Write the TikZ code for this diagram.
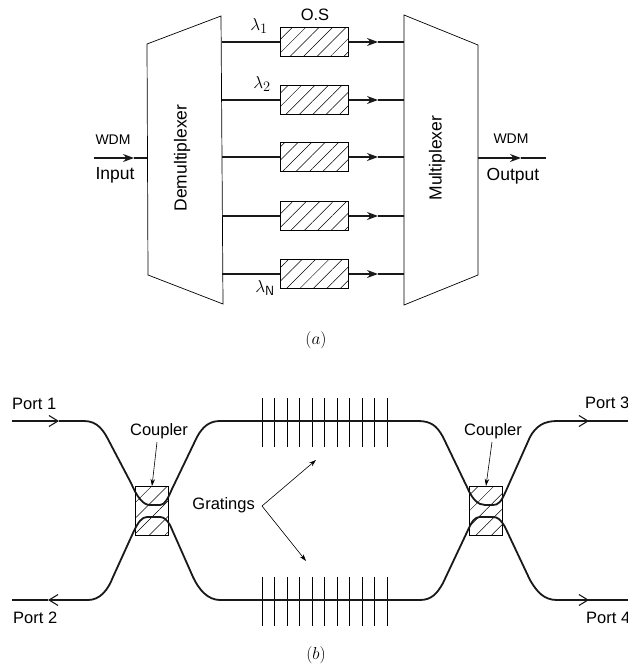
\documentclass[tikz,border=0pt]{standalone}
\usepackage{fontspec}
\setmainfont{Liberation Sans}
\usepackage{amsmath}
\usetikzlibrary{arrows.meta,patterns.meta}

\tikzset{
  wire/.style={line width=1.1pt,black!90},
  fiber/.style={line width=1.8pt,black!90},
  tipa/.style={-{Stealth[length=11pt,width=8pt]}},
  tipb/.style={-{Straight Barb[length=9pt,width=11pt,line width=1.1pt]}},
  leader/.style={line width=0.6pt,-{Stealth[length=7pt,width=4.5pt]}},
  label/.style={font=\fontsize{16.5}{18}\selectfont,inner sep=0pt},
  biglabel/.style={font=\fontsize{17.5}{19}\selectfont,inner sep=0pt},
  smalllabel/.style={font=\fontsize{14}{16}\selectfont,inner sep=0pt},
  lamlabel/.style={font=\fontsize{19}{21}\selectfont,inner sep=0pt},
  caption/.style={font=\fontsize{16}{18}\selectfont,inner sep=0pt},
  osbox/.style={draw,line width=0.8pt,minimum width=68pt,minimum height=29pt,inner sep=0pt,
    pattern={Lines[angle=45,distance=9.5pt,line width=0.5pt]}},
  couplerbox/.style={draw,line width=0.9pt,minimum width=33pt,minimum height=49.5pt,inner sep=0pt,
    pattern={Lines[angle=45,distance=11pt,line width=0.5pt]}}
}

\begin{document}
\begin{tikzpicture}[x=1pt,y=-1pt]
  \path[use as bounding box,clip] (0,0) rectangle (628,669);

  % Demultiplexer and multiplexer
  \draw[line width=0.7pt] (147,44) -- (221,16) -- (223,304) -- (148,275) -- cycle;
  \draw[line width=0.7pt] (404,15) -- (478,45) -- (478,275) -- (404,305) -- cycle;
  \node[biglabel,rotate=90] (demux) at (182,158) {Demultiplexer};
  \node[biglabel,rotate=90] (mux) at (437,158) {Multiplexer};

  % Channels
  \foreach \i/\y in {1/42,2/100,3/157,4/216,5/274} {
    \coordinate (dm\i) at (222,\y);
    \coordinate (mx\i) at (404,\y);
    \coordinate (tip\i) at (378,\y);
    \node[osbox] (os\i) at (314.5,\y) {};
    \draw[wire] (dm\i) -- (os\i);
    \draw[wire,tipa] (os\i) -- (tip\i);
    \draw[wire] (tip\i) -- (mx\i);
  }
  \node[lamlabel] (lam1) at (259,26) {$\lambda_1$};
  \node[lamlabel] (lam2) at (262,84) {$\lambda_2$};
  \node[lamlabel] (lamN) at (265,288) {$\lambda_{\mathsf{N}}$};
  \node[label] (os) at (315,15) {O.S};

  % Input and output
  \coordinate (in0) at (94,158);
  \coordinate (in1) at (134,158);
  \coordinate (in2) at (147,158);
  \draw[wire,tipa] (in0) -- (in1);
  \draw[wire] (in1) -- (in2);
  \coordinate (out0) at (478,158);
  \coordinate (out1) at (521,158);
  \coordinate (out2) at (546,158);
  \draw[wire,tipa] (out0) -- (out1);
  \draw[wire] (out1) -- (out2);
  \node[smalllabel] (wdmin) at (113,140) {WDM};
  \node[biglabel] (input) at (115,175) {Input};
  \node[smalllabel] (wdmout) at (511,139) {WDM};
  \node[biglabel] (output) at (513,176) {Output};
  \node[caption] (capa) at (316,340) {$(a)$};

  % Couplers and gratings
  \node[couplerbox] (cl) at (152,511) {};
  \node[couplerbox] (cr) at (486,511) {};
  \foreach \x in {262,274.5,...,388} {
    \draw[line width=0.6pt] (\x,398) -- (\x,447);
    \draw[line width=0.6pt] (\x,577) -- (\x,626);
  }

  % Fibers
  \coordinate (p1) at (12,421);
  \coordinate (p1t) at (59,421);
  \draw[fiber,tipb] (p1) -- (p1t);
  \draw[fiber] (p1t) -- (84,421) .. controls (98,421) and (104,431) .. (110,443) -- (131,483)
    .. controls (137,497) and (143,505) .. (150,505) -- (160,505)
    .. controls (165,505) and (168,498) .. (172,489) -- (197,437)
    .. controls (203,426) and (210,421) .. (220,421) -- (418,421)
    .. controls (431,421) and (437,426) .. (443,437) -- (467,487)
    .. controls (472,499) and (478,505) .. (485,505) -- (493,505)
    .. controls (498,505) and (501,502) .. (505,493) -- (530,437)
    .. controls (536,426) and (544,421) .. (557,421) -- (628,421);
  \coordinate (p2) at (12,600);
  \coordinate (p2t) at (48,600);
  \draw[fiber] (628,600) -- (557,600) .. controls (544,600) and (537,592) .. (530,580) -- (505,527)
    .. controls (501,520) and (498,517) .. (493,517) -- (480,517)
    .. controls (475,517) and (472,521) .. (468,530) -- (443,583)
    .. controls (437,594) and (431,600) .. (420,600) -- (220,600)
    .. controls (208,600) and (199,590) .. (193,577) -- (170,525)
    .. controls (167,520) and (164,517) .. (160,517) -- (147,517)
    .. controls (142,517) and (138,522) .. (133,533) -- (113,577)
    .. controls (108,590) and (100,600) .. (88,600) -- (60,600);
  \coordinate (p2m) at (60,600);
  \draw[fiber,tipb] (p2m) -- (p2t);
  \draw[wire] (p2t) -- (p2);
  \coordinate (p3t) at (589,421);
  \coordinate (p3a) at (570,421);
  \draw[fiber,tipb] (p3a) -- (p3t);
  \coordinate (p4t) at (589,600);
  \coordinate (p4a) at (570,600);
  \draw[fiber,tipb] (p4a) -- (p4t);

  % Labels of the lower part
  \node[label,anchor=west] (port1) at (12,404) {Port 1};
  \node[label,anchor=west] (port2) at (13,618) {Port 2};
  \node[label,anchor=west] (port3) at (585,403) {Port 3};
  \node[label,anchor=west] (port4) at (586,618) {Port 4};
  \node[label] (coupl) at (159,431) {Coupler};
  \node[label] (coupr) at (493,431) {Coupler};
  \draw[leader] (157,442) -- (cl.north);
  \draw[leader] (492,442) -- (cr.north);
  \node[label,anchor=east] (grat) at (255,505) {Gratings};
  \coordinate (gfork) at (262,506);
  \coordinate (gup) at (316,460);
  \coordinate (gdn) at (306,561);
  \draw[leader] (gfork) -- (gup);
  \draw[leader] (gfork) -- (gdn);
  \node[caption] (capb) at (316,655) {$(b)$};
\end{tikzpicture}
\end{document}
